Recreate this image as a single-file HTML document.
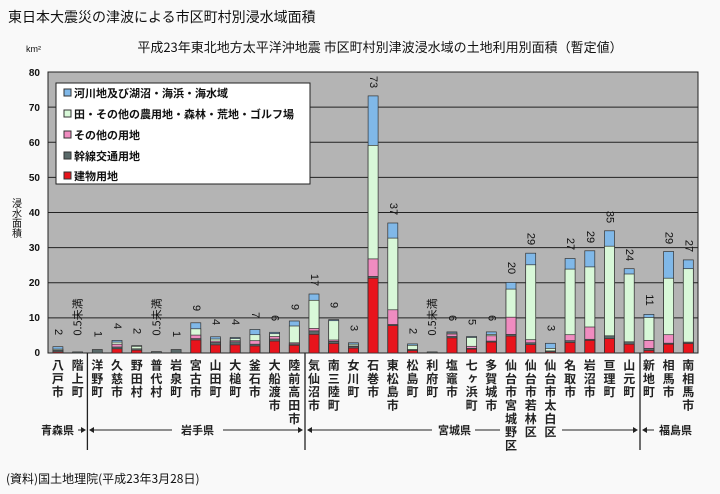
<!DOCTYPE html>
<html><head><meta charset="utf-8"><style>
html,body{margin:0;padding:0;background:#f9f9f9;}
svg{display:block;font-family:"Liberation Sans","Noto Sans CJK JP",sans-serif;}
.d{font-size:11px;fill:#111;}
.x{font-size:12px;font-weight:bold;fill:#222;font-family:"Noto Sans CJK JP",sans-serif;}
.lg{font-size:11px;font-weight:bold;fill:#111;font-family:"Noto Sans CJK JP",sans-serif;}
rect.s{stroke:#333;stroke-width:0.7;}
</style></head><body>
<svg width="720" height="494" viewBox="0 0 720 494" xmlns="http://www.w3.org/2000/svg">
<rect width="720" height="494" fill="#f9f9f9"/>
<text x="8" y="22" style="font-family:'Noto Sans CJK JP',sans-serif;font-size:14px" fill="#111">東日本大震災の津波による市区町村別浸水域面積</text>
<text x="380" y="52" text-anchor="middle" style="font-family:'Noto Sans CJK JP',sans-serif;font-size:13px" fill="#111">平成23年東北地方太平洋沖地震  市区町村別津波浸水域の土地利用別面積（暫定値）</text>
<text x="26" y="52" style="font-size:9px" fill="#111">km²</text>
<text x="17" y="198" style="font-family:'Noto Sans CJK JP',sans-serif;font-size:10px;writing-mode:tb" fill="#111">浸水面積</text>
<!-- plot -->
<rect x="48" y="72" width="650" height="281" fill="#b4b4b4" stroke="#222" stroke-width="1"/>
<g stroke="#222" stroke-width="1">
<line x1="48" x2="698" y1="107.1" y2="107.1"/><line x1="48" x2="698" y1="142.3" y2="142.3"/>
<line x1="48" x2="698" y1="177.4" y2="177.4"/><line x1="48" x2="698" y1="212.5" y2="212.5"/>
<line x1="48" x2="698" y1="247.6" y2="247.6"/><line x1="48" x2="698" y1="282.8" y2="282.8"/>
<line x1="48" x2="698" y1="317.9" y2="317.9"/>
</g>
<g class="d" text-anchor="end" style="font-size:10px;font-weight:bold">
<text x="40" y="76">80</text><text x="40" y="111">70</text><text x="40" y="146">60</text><text x="40" y="181">50</text>
<text x="40" y="216">40</text><text x="40" y="251">30</text><text x="40" y="286">20</text><text x="40" y="321">10</text><text x="40" y="356">0</text>
</g>
<!-- legend -->
<rect x="56" y="83" width="254" height="101" fill="#fff" stroke="#222"/>
<rect x="64" y="89" width="7" height="7" fill="#80b8e8" stroke="#333"/><text class="lg" x="74" y="97">河川地及び湖沼・海浜・海水域</text>
<rect x="64" y="110" width="7" height="7" fill="#d8f8d8" stroke="#333"/><text class="lg" x="74" y="118">田・その他の農用地・森林・荒地・ゴルフ場</text>
<rect x="64" y="131" width="7" height="7" fill="#f08cc0" stroke="#333"/><text class="lg" x="74" y="139">その他の用地</text>
<rect x="64" y="152" width="7" height="7" fill="#5a6a6a" stroke="#333"/><text class="lg" x="74" y="160">幹線交通用地</text>
<rect x="64" y="172" width="7" height="7" fill="#e8141c" stroke="#333"/><text class="lg" x="74" y="180">建物用地</text>
<!-- bars -->
<g>
<g transform="translate(52.9,0)"><rect class="s" x="0" width="10" y="346.7" height="6.3" fill="#80b8e8"/><rect class="s" x="0" width="10" y="349.1" height="3.9" fill="#d8f8d8"/><rect class="s" x="0" width="10" y="350.2" height="2.8" fill="#5a6a6a"/><rect class="s" x="0" width="10" y="351.9" height="1.1" fill="#e8141c"/></g>
<g transform="translate(72.6,0)"><rect class="s" x="0" width="10" y="351.9" height="1.1" fill="#5a6a6a"/></g>
<g transform="translate(92.3,0)"><rect class="s" x="0" width="10" y="349.5" height="3.5" fill="#5a6a6a"/></g>
<g transform="translate(112,0)"><rect class="s" x="0" width="10" y="340.4" height="12.6" fill="#80b8e8"/><rect class="s" x="0" width="10" y="342.1" height="10.9" fill="#d8f8d8"/><rect class="s" x="0" width="10" y="344.2" height="8.8" fill="#f08cc0"/><rect class="s" x="0" width="10" y="347" height="6" fill="#5a6a6a"/><rect class="s" x="0" width="10" y="348.8" height="4.2" fill="#e8141c"/></g>
<g transform="translate(131.7,0)"><rect class="s" x="0" width="10" y="345.6" height="7.4" fill="#80b8e8"/><rect class="s" x="0" width="10" y="346.3" height="6.7" fill="#d8f8d8"/><rect class="s" x="0" width="10" y="348.8" height="4.2" fill="#5a6a6a"/><rect class="s" x="0" width="10" y="350.2" height="2.8" fill="#e8141c"/></g>
<g transform="translate(151.4,0)"><rect class="s" x="0" width="10" y="351.6" height="1.4" fill="#5a6a6a"/></g>
<g transform="translate(171.1,0)"><rect class="s" x="0" width="10" y="349.5" height="3.5" fill="#5a6a6a"/></g>
<g transform="translate(190.8,0)"><rect class="s" x="0" width="10" y="322.8" height="30.2" fill="#80b8e8"/><rect class="s" x="0" width="10" y="328.8" height="24.2" fill="#d8f8d8"/><rect class="s" x="0" width="10" y="335.1" height="17.9" fill="#f08cc0"/><rect class="s" x="0" width="10" y="338.6" height="14.4" fill="#5a6a6a"/><rect class="s" x="0" width="10" y="340" height="13" fill="#e8141c"/></g>
<g transform="translate(210.5,0)"><rect class="s" x="0" width="10" y="336.8" height="16.2" fill="#80b8e8"/><rect class="s" x="0" width="10" y="339" height="14" fill="#d8f8d8"/><rect class="s" x="0" width="10" y="341.1" height="11.9" fill="#f08cc0"/><rect class="s" x="0" width="10" y="342.5" height="10.5" fill="#5a6a6a"/><rect class="s" x="0" width="10" y="344.9" height="8.1" fill="#e8141c"/></g>
<g transform="translate(230.2,0)"><rect class="s" x="0" width="10" y="337.5" height="15.5" fill="#80b8e8"/><rect class="s" x="0" width="10" y="338.6" height="14.4" fill="#d8f8d8"/><rect class="s" x="0" width="10" y="340.7" height="12.3" fill="#f08cc0"/><rect class="s" x="0" width="10" y="341.8" height="11.2" fill="#5a6a6a"/><rect class="s" x="0" width="10" y="344.9" height="8.1" fill="#e8141c"/></g>
<g transform="translate(249.9,0)"><rect class="s" x="0" width="10" y="329.5" height="23.5" fill="#80b8e8"/><rect class="s" x="0" width="10" y="334.7" height="18.3" fill="#d8f8d8"/><rect class="s" x="0" width="10" y="340.7" height="12.3" fill="#f08cc0"/><rect class="s" x="0" width="10" y="344.2" height="8.8" fill="#5a6a6a"/><rect class="s" x="0" width="10" y="346" height="7" fill="#e8141c"/></g>
<g transform="translate(269.6,0)"><rect class="s" x="0" width="10" y="332.3" height="20.7" fill="#80b8e8"/><rect class="s" x="0" width="10" y="333.7" height="19.3" fill="#d8f8d8"/><rect class="s" x="0" width="10" y="336.5" height="16.5" fill="#f08cc0"/><rect class="s" x="0" width="10" y="339" height="14" fill="#5a6a6a"/><rect class="s" x="0" width="10" y="341.1" height="11.9" fill="#e8141c"/></g>
<g transform="translate(289.3,0)"><rect class="s" x="0" width="10" y="321" height="32" fill="#80b8e8"/><rect class="s" x="0" width="10" y="326" height="27" fill="#d8f8d8"/><rect class="s" x="0" width="10" y="342.8" height="10.2" fill="#f08cc0"/><rect class="s" x="0" width="10" y="343.9" height="9.1" fill="#5a6a6a"/><rect class="s" x="0" width="10" y="345.3" height="7.7" fill="#e8141c"/></g>
<g transform="translate(309,0)"><rect class="s" x="0" width="10" y="294" height="59" fill="#80b8e8"/><rect class="s" x="0" width="10" y="300.3" height="52.7" fill="#d8f8d8"/><rect class="s" x="0" width="10" y="328.4" height="24.6" fill="#f08cc0"/><rect class="s" x="0" width="10" y="330.9" height="22.1" fill="#5a6a6a"/><rect class="s" x="0" width="10" y="334.4" height="18.6" fill="#e8141c"/></g>
<g transform="translate(328.7,0)"><rect class="s" x="0" width="10" y="319.6" height="33.4" fill="#80b8e8"/><rect class="s" x="0" width="10" y="320.7" height="32.3" fill="#d8f8d8"/><rect class="s" x="0" width="10" y="340" height="13" fill="#f08cc0"/><rect class="s" x="0" width="10" y="341.4" height="11.6" fill="#5a6a6a"/><rect class="s" x="0" width="10" y="343.5" height="9.5" fill="#e8141c"/></g>
<g transform="translate(348.4,0)"><rect class="s" x="0" width="10" y="342.8" height="10.2" fill="#80b8e8"/><rect class="s" x="0" width="10" y="344.2" height="8.8" fill="#d8f8d8"/><rect class="s" x="0" width="10" y="346" height="7" fill="#f08cc0"/><rect class="s" x="0" width="10" y="346.7" height="6.3" fill="#5a6a6a"/><rect class="s" x="0" width="10" y="348.1" height="4.9" fill="#e8141c"/></g>
<g transform="translate(368.1,0)"><rect class="s" x="0" width="10" y="95.9" height="257.1" fill="#80b8e8"/><rect class="s" x="0" width="10" y="145.4" height="207.6" fill="#d8f8d8"/><rect class="s" x="0" width="10" y="258.9" height="94.1" fill="#f08cc0"/><rect class="s" x="0" width="10" y="276.4" height="76.6" fill="#5a6a6a"/><rect class="s" x="0" width="10" y="278.2" height="74.8" fill="#e8141c"/></g>
<g transform="translate(387.8,0)"><rect class="s" x="0" width="10" y="223" height="130" fill="#80b8e8"/><rect class="s" x="0" width="10" y="238.1" height="114.9" fill="#d8f8d8"/><rect class="s" x="0" width="10" y="309.8" height="43.2" fill="#f08cc0"/><rect class="s" x="0" width="10" y="324.5" height="28.5" fill="#5a6a6a"/><rect class="s" x="0" width="10" y="325.6" height="27.4" fill="#e8141c"/></g>
<g transform="translate(407.5,0)"><rect class="s" x="0" width="10" y="343.9" height="9.1" fill="#80b8e8"/><rect class="s" x="0" width="10" y="345.3" height="7.7" fill="#d8f8d8"/><rect class="s" x="0" width="10" y="349.5" height="3.5" fill="#5a6a6a"/><rect class="s" x="0" width="10" y="350.5" height="2.5" fill="#e8141c"/></g>
<g transform="translate(427.2,0)"><rect class="s" x="0" width="10" y="351.9" height="1.1" fill="#5a6a6a"/></g>
<g transform="translate(446.9,0)"><rect class="s" x="0" width="10" y="331.9" height="21.1" fill="#80b8e8"/><rect class="s" x="0" width="10" y="333" height="20" fill="#d8f8d8"/><rect class="s" x="0" width="10" y="334" height="19" fill="#f08cc0"/><rect class="s" x="0" width="10" y="336.5" height="16.5" fill="#5a6a6a"/><rect class="s" x="0" width="10" y="337.9" height="15.1" fill="#e8141c"/></g>
<g transform="translate(466.6,0)"><rect class="s" x="0" width="10" y="336.5" height="16.5" fill="#80b8e8"/><rect class="s" x="0" width="10" y="337.5" height="15.5" fill="#d8f8d8"/><rect class="s" x="0" width="10" y="346.3" height="6.7" fill="#f08cc0"/><rect class="s" x="0" width="10" y="348.4" height="4.6" fill="#5a6a6a"/><rect class="s" x="0" width="10" y="349.1" height="3.9" fill="#e8141c"/></g>
<g transform="translate(486.3,0)"><rect class="s" x="0" width="10" y="331.9" height="21.1" fill="#80b8e8"/><rect class="s" x="0" width="10" y="334.4" height="18.6" fill="#d8f8d8"/><rect class="s" x="0" width="10" y="335.8" height="17.2" fill="#f08cc0"/><rect class="s" x="0" width="10" y="341.1" height="11.9" fill="#5a6a6a"/><rect class="s" x="0" width="10" y="342.1" height="10.9" fill="#e8141c"/></g>
<g transform="translate(506,0)"><rect class="s" x="0" width="10" y="282.4" height="70.6" fill="#80b8e8"/><rect class="s" x="0" width="10" y="289.1" height="63.9" fill="#d8f8d8"/><rect class="s" x="0" width="10" y="317.2" height="35.8" fill="#f08cc0"/><rect class="s" x="0" width="10" y="334.4" height="18.6" fill="#5a6a6a"/><rect class="s" x="0" width="10" y="336.1" height="16.9" fill="#e8141c"/></g>
<g transform="translate(525.7,0)"><rect class="s" x="0" width="10" y="253.2" height="99.8" fill="#80b8e8"/><rect class="s" x="0" width="10" y="264.8" height="88.2" fill="#d8f8d8"/><rect class="s" x="0" width="10" y="339.7" height="13.3" fill="#f08cc0"/><rect class="s" x="0" width="10" y="342.8" height="10.2" fill="#5a6a6a"/><rect class="s" x="0" width="10" y="344.6" height="8.4" fill="#e8141c"/></g>
<g transform="translate(545.4,0)"><rect class="s" x="0" width="10" y="343.3" height="9.7" fill="#80b8e8"/><rect class="s" x="0" width="10" y="348.4" height="4.6" fill="#d8f8d8"/><rect class="s" x="0" width="10" y="350.9" height="2.1" fill="#5a6a6a"/><rect class="s" x="0" width="10" y="351.9" height="1.1" fill="#e8141c"/></g>
<g transform="translate(565.1,0)"><rect class="s" x="0" width="10" y="258.5" height="94.5" fill="#80b8e8"/><rect class="s" x="0" width="10" y="269.1" height="83.9" fill="#d8f8d8"/><rect class="s" x="0" width="10" y="334.7" height="18.3" fill="#f08cc0"/><rect class="s" x="0" width="10" y="340.7" height="12.3" fill="#5a6a6a"/><rect class="s" x="0" width="10" y="342.5" height="10.5" fill="#e8141c"/></g>
<g transform="translate(584.8,0)"><rect class="s" x="0" width="10" y="250.8" height="102.2" fill="#80b8e8"/><rect class="s" x="0" width="10" y="266.9" height="86.1" fill="#d8f8d8"/><rect class="s" x="0" width="10" y="327" height="26" fill="#f08cc0"/><rect class="s" x="0" width="10" y="339.3" height="13.7" fill="#5a6a6a"/><rect class="s" x="0" width="10" y="340.4" height="12.6" fill="#e8141c"/></g>
<g transform="translate(604.5,0)"><rect class="s" x="0" width="10" y="230.8" height="122.2" fill="#80b8e8"/><rect class="s" x="0" width="10" y="246.2" height="106.8" fill="#d8f8d8"/><rect class="s" x="0" width="10" y="335.8" height="17.2" fill="#5a6a6a"/><rect class="s" x="0" width="10" y="338.6" height="14.4" fill="#e8141c"/></g>
<g transform="translate(624.2,0)"><rect class="s" x="0" width="10" y="268.7" height="84.3" fill="#80b8e8"/><rect class="s" x="0" width="10" y="274" height="79" fill="#d8f8d8"/><rect class="s" x="0" width="10" y="341.8" height="11.2" fill="#5a6a6a"/><rect class="s" x="0" width="10" y="344.2" height="8.8" fill="#e8141c"/></g>
<g transform="translate(643.9,0)"><rect class="s" x="0" width="10" y="314.4" height="38.6" fill="#80b8e8"/><rect class="s" x="0" width="10" y="317.5" height="35.5" fill="#d8f8d8"/><rect class="s" x="0" width="10" y="340.4" height="12.6" fill="#f08cc0"/><rect class="s" x="0" width="10" y="348.4" height="4.6" fill="#5a6a6a"/><rect class="s" x="0" width="10" y="350.5" height="2.5" fill="#e8141c"/></g>
<g transform="translate(663.6,0)"><rect class="s" x="0" width="10" y="251.5" height="101.5" fill="#80b8e8"/><rect class="s" x="0" width="10" y="278.2" height="74.8" fill="#d8f8d8"/><rect class="s" x="0" width="10" y="334.7" height="18.3" fill="#f08cc0"/><rect class="s" x="0" width="10" y="343.2" height="9.8" fill="#5a6a6a"/><rect class="s" x="0" width="10" y="344.2" height="8.8" fill="#e8141c"/></g>
<g transform="translate(683.3,0)"><rect class="s" x="0" width="10" y="259.9" height="93.1" fill="#80b8e8"/><rect class="s" x="0" width="10" y="268.7" height="84.3" fill="#d8f8d8"/><rect class="s" x="0" width="10" y="342.1" height="10.9" fill="#5a6a6a"/><rect class="s" x="0" width="10" y="343.5" height="9.5" fill="#e8141c"/></g>
</g>
<!-- value labels -->
<g class="d" text-anchor="middle" dominant-baseline="central">
<text transform="translate(58,332) rotate(90)">2</text>
<text transform="translate(77.6,317) rotate(-90)" style="font-family:'Noto Sans CJK JP',sans-serif">0.5未満</text>
<text transform="translate(97.3,334) rotate(90)">1</text>
<text transform="translate(117,326) rotate(90)">4</text>
<text transform="translate(136.7,331) rotate(90)">2</text>
<text transform="translate(156.4,317) rotate(-90)" style="font-family:'Noto Sans CJK JP',sans-serif">0.5未満</text>
<text transform="translate(176.1,334) rotate(90)">1</text>
<text transform="translate(195.8,308) rotate(90)">9</text>
<text transform="translate(215.5,322) rotate(90)">4</text>
<text transform="translate(235.2,322) rotate(90)">4</text>
<text transform="translate(254.9,315) rotate(90)">7</text>
<text transform="translate(274.6,318) rotate(90)">6</text>
<text transform="translate(294.3,307) rotate(90)">9</text>
<text transform="translate(314,280) rotate(90)">17</text>
<text transform="translate(333.7,305) rotate(90)">9</text>
<text transform="translate(353.4,328) rotate(90)">3</text>
<text transform="translate(373.1,82) rotate(90)">73</text>
<text transform="translate(392.8,209) rotate(90)">37</text>
<text transform="translate(412.5,331) rotate(90)">2</text>
<text transform="translate(432.2,317) rotate(-90)" style="font-family:'Noto Sans CJK JP',sans-serif">0.5未満</text>
<text transform="translate(451.9,318) rotate(90)">6</text>
<text transform="translate(471.6,322) rotate(90)">5</text>
<text transform="translate(491.3,318) rotate(90)">6</text>
<text transform="translate(511,268) rotate(90)">20</text>
<text transform="translate(530.7,239) rotate(90)">29</text>
<text transform="translate(550.4,328) rotate(90)">3</text>
<text transform="translate(570.1,244) rotate(90)">27</text>
<text transform="translate(589.8,237) rotate(90)">29</text>
<text transform="translate(609.5,217) rotate(90)">35</text>
<text transform="translate(629.2,255) rotate(90)">24</text>
<text transform="translate(648.9,300) rotate(90)">11</text>
<text transform="translate(668.6,238) rotate(90)">29</text>
<text transform="translate(688.3,246) rotate(90)">27</text>
</g>
<!-- x labels -->
<g class="x" text-anchor="start" style="writing-mode:tb;letter-spacing:1.3px">
<text x="57.9" y="359">八戸市</text><text x="77.6" y="359">階上町</text><text x="97.3" y="359">洋野町</text>
<text x="117" y="359">久慈市</text><text x="136.7" y="359">野田村</text><text x="156.4" y="359">普代村</text>
<text x="176.1" y="359">岩泉町</text><text x="195.8" y="359">宮古市</text><text x="215.5" y="359">山田町</text>
<text x="235.2" y="359">大槌町</text><text x="254.9" y="359">釜石市</text><text x="274.6" y="359">大船渡市</text>
<text x="294.3" y="359">陸前高田市</text><text x="314" y="359">気仙沼市</text><text x="333.7" y="359">南三陸町</text>
<text x="353.4" y="359">女川町</text><text x="373.1" y="359">石巻市</text><text x="392.8" y="359">東松島市</text>
<text x="412.5" y="359">松島町</text><text x="432.2" y="359">利府町</text><text x="451.9" y="359">塩竈市</text>
<text x="471.6" y="359">七ヶ浜町</text><text x="491.3" y="359">多賀城市</text><text x="511" y="359">仙台市宮城野区</text>
<text x="530.7" y="359">仙台市若林区</text><text x="550.4" y="359">仙台市太白区</text><text x="570.1" y="359">名取市</text>
<text x="589.8" y="359">岩沼市</text><text x="609.5" y="359">亘理町</text><text x="629.2" y="359">山元町</text>
<text x="648.9" y="359">新地町</text><text x="668.6" y="359">相馬市</text><text x="688.3" y="359">南相馬市</text>
</g>
<!-- dividers -->
<g stroke="#222" stroke-width="1.3">
<line x1="87.4" x2="87.4" y1="353" y2="450"/><line x1="305" x2="305" y1="353" y2="450"/><line x1="640" x2="640" y1="353" y2="450"/>
</g>
<g stroke="#222" stroke-width="1">
<line x1="92" x2="172" y1="430" y2="430"/><line x1="223" x2="302" y1="430" y2="430"/>
<line x1="309" x2="432" y1="430" y2="430"/><line x1="475" x2="500" y1="430" y2="430"/><line x1="562" x2="637" y1="430" y2="430"/>
<line x1="643" x2="654" y1="430" y2="430"/><line x1="78" x2="84" y1="430" y2="430"/>
</g>
<g fill="#222">
<polygon points="86,430 81,427 81,433"/><polygon points="89,430 94,427 94,433"/>
<polygon points="303,430 298,427 298,433"/><polygon points="307,430 312,427 312,433"/>
<polygon points="638,430 633,427 633,433"/><polygon points="642,430 647,427 647,433"/>
</g>
<g class="x" style="font-size:11px">
<text x="41" y="434">青森県</text><text x="181" y="434">岩手県</text><text x="438" y="434">宮城県</text><text x="659" y="434">福島県</text>
</g>
<text x="6" y="483" style="font-family:'Noto Sans CJK JP',sans-serif;font-size:12px" fill="#111">(資料)国土地理院(平成23年3月28日)</text>
</svg>
</body></html>
